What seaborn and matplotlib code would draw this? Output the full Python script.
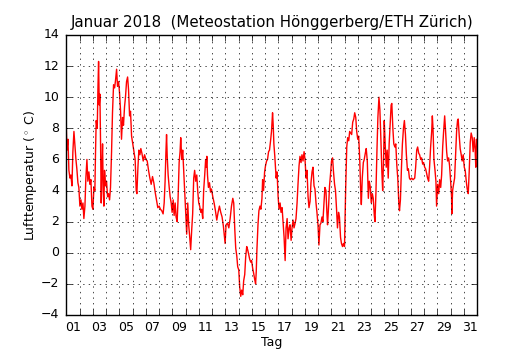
import pandas as pd
import matplotlib
matplotlib.use("Agg")
import matplotlib.pyplot as plt
import matplotlib.dates as mdates
from matplotlib.ticker import FixedLocator, FixedFormatter, NullFormatter
import seaborn as sns

# Messzeitpunkte (Tage seit 1. Januar 2018, 00:00) und Lufttemperatur in °C
tage = [
    0.00, 0.05, 0.13, 0.20, 0.28, 0.35, 0.43, 0.50, 0.58, 0.65, 0.73, 0.80, 0.88, 0.95,
    1.03, 1.11, 1.18, 1.26, 1.33, 1.41, 1.48, 1.56, 1.63, 1.71, 1.79, 1.86, 1.94,
    2.01, 2.09, 2.16, 2.21, 2.26, 2.34, 2.39, 2.44, 2.49, 2.54, 2.59, 2.64, 2.69, 2.74,
    2.79, 2.84, 2.89, 2.97, 3.04, 3.12, 3.19, 3.27, 3.34, 3.42, 3.49, 3.57, 3.65, 3.72,
    3.80, 3.87, 3.95, 4.02, 4.10, 4.17, 4.25, 4.32, 4.40, 4.47, 4.55, 4.63, 4.70, 4.78,
    4.85, 4.93, 5.00, 5.10, 5.20,
    5.28, 5.33, 5.41, 5.48, 5.56, 5.63, 5.71, 5.81, 5.91, 6.01, 6.11, 6.21, 6.31, 6.41,
    6.51, 6.61, 6.71, 6.81, 6.91, 7.01, 7.11, 7.21, 7.31, 7.39, 7.46, 7.52, 7.57, 7.62,
    7.69, 7.77, 7.84, 7.92, 7.99, 8.07, 8.14, 8.22, 8.29, 8.37, 8.44, 8.52, 8.59, 8.64,
    8.72, 8.79, 8.87, 8.94, 9.02, 9.09, 9.17, 9.24, 9.32, 9.39, 9.47, 9.54, 9.62, 9.69,
    9.77, 9.85, 9.92, 10.00, 10.07, 10.15, 10.22, 10.30, 10.37, 10.45, 10.52,
    10.56, 10.61, 10.66, 10.73, 10.81, 10.89, 10.96, 11.06, 11.16, 11.26, 11.36, 11.46,
    11.56, 11.66, 11.76, 11.86, 11.94, 11.99, 12.06, 12.17, 12.27, 12.37, 12.47, 12.57,
    12.64, 12.72, 12.79, 12.87, 12.94, 13.02, 13.09, 13.17, 13.24, 13.32, 13.39, 13.47,
    13.54, 13.62, 13.69, 13.77, 13.84, 13.92, 13.99, 14.07, 14.14, 14.22, 14.29, 14.34,
    14.39, 14.47, 14.54, 14.62, 14.69, 14.77, 14.82, 14.89, 14.97, 15.04, 15.12, 15.19,
    15.27, 15.34, 15.42, 15.49, 15.57, 15.62, 15.67, 15.74, 15.82,
    15.84, 15.91, 15.99, 16.06, 16.14, 16.21, 16.29, 16.39, 16.44, 16.52, 16.59, 16.67,
    16.74, 16.82, 16.89, 16.97, 17.04, 17.12, 17.19, 17.27, 17.34, 17.42, 17.49, 17.57,
    17.64, 17.72, 17.79, 17.87, 17.95, 18.02, 18.10, 18.17, 18.25, 18.32, 18.40, 18.47,
    18.55, 18.62, 18.70, 18.77, 18.85, 18.92, 19.00, 19.07, 19.15, 19.22, 19.30, 19.37,
    19.45, 19.52, 19.60, 19.67, 19.72, 19.80, 19.87, 19.95, 20.02, 20.10, 20.17, 20.25,
    20.32, 20.40, 20.47, 20.55, 20.62, 20.70, 20.77, 20.85, 20.92, 21.00,
    21.04, 21.09, 21.17, 21.24, 21.32, 21.39, 21.47, 21.54, 21.62, 21.70, 21.77, 21.85,
    21.92, 22.00, 22.07, 22.15, 22.22, 22.27, 22.34, 22.42, 22.49, 22.57, 22.64, 22.72,
    22.80, 22.87, 22.95, 23.02, 23.10, 23.17, 23.25, 23.30, 23.37, 23.45, 23.52, 23.60,
    23.67, 23.75, 23.82, 23.88, 23.95, 24.00, 24.07, 24.15, 24.22, 24.30, 24.37, 24.45,
    24.52, 24.57, 24.65, 24.72, 24.80, 24.87, 24.95, 25.02, 25.10, 25.15, 25.22, 25.30,
    25.37, 25.45, 25.52, 25.60, 25.67, 25.75, 25.82, 25.90, 25.97, 26.07, 26.17,
    26.30, 26.37, 26.45, 26.52, 26.60, 26.67, 26.75, 26.82, 26.90, 26.97, 27.05, 27.12,
    27.20, 27.27, 27.35, 27.42, 27.50, 27.58, 27.63, 27.68, 27.75, 27.83, 27.90, 27.95,
    28.03, 28.11, 28.18, 28.26, 28.33, 28.41, 28.48, 28.56, 28.63, 28.71, 28.78, 28.86,
    28.93, 29.01, 29.08, 29.10, 29.16, 29.23, 29.31, 29.38, 29.46, 29.53, 29.58, 29.66,
    29.73, 29.81, 29.88, 29.96, 30.04, 30.11, 30.19, 30.26, 30.34, 30.41, 30.49, 30.56,
    30.64, 30.71, 30.79, 30.86, 30.91, 30.96, 31.00,
]

temperatur = [
    8.2, 6.6, 7.3, 5.3, 4.8, 5.0, 4.3, 6.5, 7.8, 7.0, 6.0, 5.4, 4.5, 4.2,
    3.0, 3.4, 2.8, 3.2, 2.2, 3.0, 4.8, 6.0, 4.6, 5.2, 4.4, 4.7, 3.0,
    2.8, 4.2, 4.0, 6.5, 8.5, 8.0, 10.5, 12.3, 9.5, 10.2, 7.0, 3.2, 5.5, 7.0,
    4.0, 3.0, 5.3, 4.3, 4.6, 3.6, 3.8, 3.4, 4.2, 6.5, 9.0, 10.8, 10.6, 11.1,
    11.8, 10.7, 11.0, 10.3, 9.1, 7.3, 8.7, 8.2, 9.4, 10.0, 11.0, 11.3, 10.5, 8.8,
    9.1, 7.5, 7.1, 6.5, 6.0,
    4.0, 3.8, 5.5, 6.6, 6.3, 6.7, 6.4, 5.9, 6.3, 6.0, 5.9, 5.3, 4.8, 4.4,
    4.9, 4.5, 3.9, 3.4, 2.9, 3.0, 2.8, 2.7, 2.5, 3.2, 4.6, 6.4, 7.6, 6.2,
    5.0, 4.2, 3.6, 3.2, 2.6, 3.4, 2.4, 3.2, 2.3, 2.0, 3.5, 5.8, 6.5, 7.4,
    6.0, 6.6, 5.2, 4.0, 2.5, 1.2, 3.2, 1.8, 1.0, 0.2, 1.5, 2.5, 4.8, 5.3,
    4.6, 5.0, 4.0, 3.2, 3.0, 2.6, 2.8, 2.2, 4.0, 5.0, 6.0,
    5.5, 6.2, 5.0, 4.2, 4.5, 3.9, 4.1, 3.6, 3.2, 2.7, 2.1, 2.6,
    3.0, 2.6, 2.3, 1.7, 1.0, 0.6, 1.8, 1.9, 1.6, 2.2, 3.0, 3.5,
    3.2, 1.5, 0.3, -0.2, -0.9, -1.1, -2.2, -2.8, -2.4, -2.7, -1.8, -1.4,
    -0.3, 0.4, 0.2, -0.1, -0.4, -0.6, -0.5, -1.0, -1.3, -1.7, -2.0, -1.2,
    0.2, 1.8, 2.7, 3.0, 2.8, 3.5, 4.7, 4.0, 5.2, 5.6, 5.9, 6.0,
    6.5, 6.6, 7.2, 7.8, 9.0, 8.2, 7.0, 6.2, 5.0,
    4.8, 5.2, 3.6, 2.8, 3.2, 2.6, 2.9, 1.6, 1.0, -0.5, 1.6, 2.2,
    0.9, 1.6, 1.8, 0.8, 1.6, 2.1, 1.6, 1.9, 2.2, 3.2, 4.4, 5.6,
    6.2, 5.8, 6.3, 5.9, 6.5, 6.0, 4.8, 5.3, 3.6, 2.9, 3.3, 4.5,
    5.2, 5.5, 4.3, 4.1, 3.2, 2.6, 1.8, 0.5, 1.8, 1.9, 2.3, 2.0,
    3.2, 4.2, 4.0, 2.6, 1.8, 3.0, 4.3, 5.1, 5.9, 6.1, 5.2, 4.4,
    4.0, 2.8, 1.6, 2.6, 2.3, 1.0, 0.6, 0.4, 0.6, 0.4,
    2.0, 4.2, 6.8, 7.4, 7.2, 7.8, 7.7, 7.6, 8.4, 8.6, 9.0, 8.7,
    7.8, 7.3, 7.5, 6.0, 4.0, 3.1, 4.8, 5.8, 6.0, 6.4, 6.7, 5.9,
    3.5, 4.6, 4.2, 3.2, 3.8, 3.5, 2.4, 2.0, 3.8, 6.6, 8.7, 10.0,
    9.2, 7.2, 5.2, 4.0, 6.0, 8.5, 7.0, 5.5, 6.6, 4.8, 7.0, 8.4,
    9.5, 9.6, 8.0, 7.0, 6.8, 7.0, 5.6, 4.8, 3.2, 2.7, 3.4, 5.5,
    7.0, 8.0, 8.5, 7.6, 6.3, 5.3, 5.4, 4.8, 4.7, 4.8, 4.7,
    4.8, 5.5, 6.6, 6.8, 6.4, 6.3, 6.0, 6.1, 5.7, 5.8, 5.5, 5.4,
    5.1, 4.8, 4.6, 5.5, 6.8, 7.8, 8.8, 8.0, 6.0, 5.3, 4.6, 3.0,
    4.4, 3.8, 4.7, 4.2, 5.0, 6.8, 7.8, 8.8, 7.8, 6.5, 5.9, 6.1,
    5.6, 4.6, 3.6, 2.5, 4.0, 4.4, 4.8, 6.2, 7.8, 8.5, 8.6, 7.5,
    6.7, 6.3, 5.9, 6.3, 5.5, 5.3, 4.6, 4.1, 3.8, 5.2, 7.1, 7.7,
    7.4, 6.5, 7.4, 6.6, 5.5, 7.3, 7.0,
]

y_ticks = [-4, -2, 0, 2, 4, 6, 8, 10, 12, 14]
tag_labels = ["%02d" % d for d in range(1, 32, 2)]

plt.style.use("classic")
plt.rcParams.update({
    "figure.facecolor": "white",
    "savefig.facecolor": "white",
    "font.family": "DejaVu Sans",
    "xtick.labelsize": 9,
    "ytick.labelsize": 9,
    "axes.labelsize": 9,
})

start = pd.Timestamp("2018-01-01")
zeit = start + pd.to_timedelta(tage, unit="D")
df = pd.DataFrame({"Zeit": zeit, "Temperatur": temperatur})

fig = plt.figure(figsize=(5.3, 3.5), dpi=100)
ax = fig.add_subplot(111)
sns.lineplot(data=df, x="Zeit", y="Temperatur", color="red", linewidth=1.0,
             estimator=None, ax=ax)

# Raster an jedem Tageswechsel, Beschriftung in der Tagesmitte jedes zweiten Tages
mitternacht = [mdates.date2num(start + pd.Timedelta(days=d)) for d in range(0, 32)]
mittag = [mdates.date2num(start + pd.Timedelta(days=d - 1, hours=12)) for d in range(1, 32, 2)]
ax.xaxis.set_major_locator(FixedLocator(mitternacht))
ax.xaxis.set_major_formatter(NullFormatter())
ax.xaxis.set_minor_locator(FixedLocator(mittag))
ax.xaxis.set_minor_formatter(FixedFormatter(tag_labels))
ax.tick_params(axis="x", which="minor", length=0, pad=4)
ax.tick_params(axis="y", which="major", pad=5)
ax.tick_params(axis="both", which="major", direction="in", length=4, width=0.5,
               top=True, right=True)

ax.set_xlim(mitternacht[0], mitternacht[-1])
ax.set_ylim(-4, 14)
ax.set_yticks(y_ticks)
ax.grid(True, which="major", color="black", linestyle=":", linewidth=0.5)

ax.set_title("Januar 2018  (Meteostation Hönggerberg/ETH Zürich)", fontsize=10.8, y=1.005)
ax.set_xlabel("Tag", labelpad=2)
ax.set_ylabel(r"Lufttemperatur ($^\circ$ C)", labelpad=1.7)

fig.subplots_adjust(left=0.125, right=0.9, bottom=0.1, top=0.9)
fig.savefig("out.png", dpi=100)
